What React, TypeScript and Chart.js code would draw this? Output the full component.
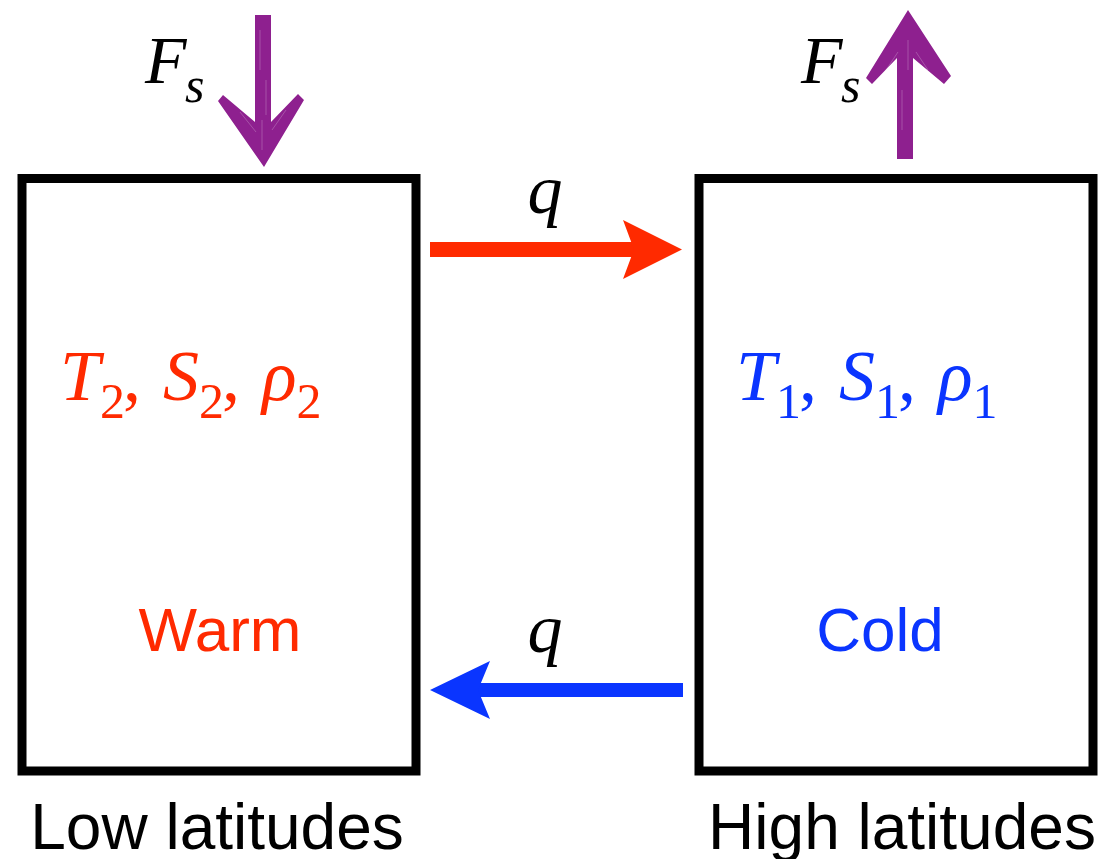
import React, { useEffect, useRef } from "react";
import { Chart, registerables } from "chart.js";

Chart.register(...registerables);

// ---- content / values ----
const regionLabels = ["Low latitudes", "High latitudes"];
const stateLabels = ["Warm", "Cold"];
const boxVariables = [
  [["T", "2"], ["S", "2"], ["ρ", "2"]],
  [["T", "1"], ["S", "1"], ["ρ", "1"]],
];
const fluxLabel = ["F", "s"];
const transportLabel = "q";

// ---- layout (diagram coordinates, same units as the canvas) ----
const W = 1102;
const H = 859;
const boxXs = [
  [22, 416],
  [699, 1093],
];
const boxYs = [178.5, 771];
const topArrowY = 249.5;
const bottomArrowY = 690;
const topArrowXs = [430, 640];
const bottomArrowXs = [476, 683];

const RED = "#FF2A00";
const BLUE = "#0A35FF";
const PURPLE = "#8E208F";

function boxPath(i: number) {
  const [x0, x1] = boxXs[i];
  const [y0, y1] = boxYs;
  return [
    { x: x0, y: y0 },
    { x: x1, y: y0 },
    { x: x1, y: y1 },
    { x: x0, y: y1 },
    { x: x0, y: y0 },
  ];
}

const diagramPlugin = {
  id: "diagram",
  afterDatasetsDraw(chart: any) {
    const ctx = chart.ctx as CanvasRenderingContext2D;
    const xs = chart.scales.x;
    const ys = chart.scales.y;
    const px = (v: number) => xs.getPixelForValue(v);
    const py = (v: number) => ys.getPixelForValue(v);

    const poly = (pts: number[][], color: string) => {
      ctx.beginPath();
      pts.forEach(([x, y], k) => {
        if (k === 0) ctx.moveTo(px(x), py(y));
        else ctx.lineTo(px(x), py(y));
      });
      ctx.closePath();
      ctx.fillStyle = color;
      ctx.fill();
    };

    ctx.save();
    // q arrowheads
    poly([[682, 249.5], [623, 220], [634, 249.5], [623, 279]], RED);
    poly([[430, 690], [490, 661], [478, 690], [490, 719]], BLUE);

    // F_s arrows (purple)
    poly(
      [[255, 15], [271, 15], [271, 122], [298, 94], [304, 100], [264, 167], [218, 101], [223, 95], [255, 122]],
      PURPLE
    );
    poly(
      [[897, 159], [913, 159], [913, 58], [944, 84], [951, 76], [908, 10], [866, 78], [872, 84], [897, 58]],
      PURPLE
    );
    // crayon-like texture speckles
    ctx.strokeStyle = "rgba(255,255,255,0.22)";
    ctx.lineWidth = 1;
    const streaks = [
      [260, 30, 260, 70], [266, 80, 266, 115], [262, 120, 262, 150],
      [240, 112, 256, 132], [286, 110, 272, 130],
      [902, 90, 902, 130], [908, 40, 908, 70], [886, 70, 898, 52], [928, 70, 916, 52],
    ];
    streaks.forEach(([a, b, c, d]) => {
      ctx.beginPath();
      ctx.moveTo(px(a), py(b));
      ctx.lineTo(px(c), py(d));
      ctx.stroke();
    });

    ctx.textBaseline = "alphabetic";
    const serif = "'Liberation Serif', 'DejaVu Serif', serif";
    const sans = "'Liberation Sans', Arial, sans-serif";

    // F_s labels
    const drawFs = (x: number, y: number) => {
      ctx.fillStyle = "#000";
      ctx.textAlign = "left";
      ctx.font = `italic 68px ${serif}`;
      ctx.fillText(fluxLabel[0], px(x), py(y));
      ctx.font = `italic 50px ${serif}`;
      ctx.fillText(fluxLabel[1], px(x + 40), py(y + 19));
    };
    drawFs(145, 83);
    drawFs(801, 83);

    // q labels
    ctx.fillStyle = "#000";
    ctx.textAlign = "center";
    ctx.font = `italic 70px ${serif}`;
    ctx.fillText(transportLabel, px(545), py(213));
    ctx.fillText(transportLabel, px(545), py(652));

    // variable lists
    const drawVars = (x: number, y: number, parts: string[][], color: string) => {
      ctx.fillStyle = color;
      ctx.textAlign = "left";
      let cx = px(x);
      parts.forEach(([main, sub], k) => {
        ctx.font = `italic 72px ${serif}`;
        ctx.fillText(main, cx, py(y));
        cx += ctx.measureText(main).width;
        ctx.font = `50px ${serif}`;
        ctx.fillText(sub, cx, py(y + 18));
        cx += ctx.measureText(sub).width;
        if (k < parts.length - 1) {
          ctx.font = `72px ${serif}`;
          ctx.fillText(",", cx - 2, py(y));
          cx += ctx.measureText(", ").width + 2;
        }
      });
    };
    drawVars(60, 400, boxVariables[0], RED);
    drawVars(736, 400, boxVariables[1], BLUE);

    // Warm / Cold
    ctx.textAlign = "center";
    ctx.font = `62px ${sans}`;
    ctx.fillStyle = RED;
    ctx.fillText(stateLabels[0], px(220), py(651));
    ctx.fillStyle = BLUE;
    ctx.fillText(stateLabels[1], px(880), py(651));

    // region labels
    ctx.fillStyle = "#000";
    ctx.font = `64px ${sans}`;
    ctx.fillText(regionLabels[0], px(217), py(849));
    ctx.fillText(regionLabels[1], px(902), py(849));
    ctx.restore();
  },
};

export default function App() {
  const ref = useRef<HTMLCanvasElement>(null);
  useEffect(() => {
    if (!ref.current) return;
    const lineDs = (data: any[], color: string, width: number) => ({
      type: "line" as const,
      data,
      borderColor: color,
      backgroundColor: color,
      borderWidth: width,
      pointRadius: 0,
      showLine: true,
      fill: false,
      tension: 0,
      borderCapStyle: "butt" as const,
      borderJoinStyle: "miter" as const,
    });
    const chart = new Chart(ref.current, {
      type: "scatter",
      data: {
        datasets: [
          { ...lineDs(boxPath(0), "#000", 9), borderCapStyle: "square" as const },
          { ...lineDs(boxPath(1), "#000", 9), borderCapStyle: "square" as const },
          lineDs(
            [
              { x: topArrowXs[0], y: topArrowY },
              { x: topArrowXs[1], y: topArrowY },
            ],
            RED,
            15
          ),
          lineDs(
            [
              { x: bottomArrowXs[0], y: bottomArrowY },
              { x: bottomArrowXs[1], y: bottomArrowY },
            ],
            BLUE,
            14
          ),
        ],
      },
      options: {
        responsive: false,
        animation: false,
        devicePixelRatio: window.devicePixelRatio || 1,
        layout: { padding: 0 },
        plugins: { legend: { display: false }, tooltip: { enabled: false } },
        events: [],
        scales: {
          x: { type: "linear", min: 0, max: W, display: false },
          y: { type: "linear", min: 0, max: H, reverse: true, display: false },
        },
      },
      plugins: [diagramPlugin],
    });
    return () => chart.destroy();
  }, []);
  return (
    <div style={{ position: "fixed", left: 0, top: 0, width: W, height: H, background: "#fff" }}>
      <canvas ref={ref} width={W} height={H} style={{ width: W, height: H, display: "block" }} />
    </div>
  );
}
